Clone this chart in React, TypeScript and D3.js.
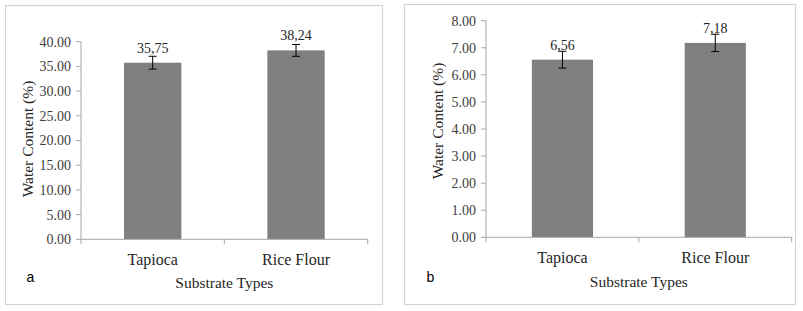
import React, { useEffect, useRef } from 'react';
import * as d3 from 'd3';

// data
const categories = ['Tapioca', 'Rice Flour'];
const waterA = [35.75, 38.24];
const errorA = [1.3, 1.2];
const waterB = [6.56, 7.18];
const errorB = [0.31, 0.32];
const ticksA = [0, 5, 10, 15, 20, 25, 30, 35, 40];
const ticksB = [0, 1, 2, 3, 4, 5, 6, 7, 8];

const serif = '"Liberation Serif", "Times New Roman", serif';
const sans = '"Liberation Sans", Arial, sans-serif';

const panels = [
  {
    tag: 'a', values: waterA, errors: errorA, ticks: ticksA, max: 40,
    frame: [5.5, 5.5, 382.5, 304.5],
    plot: { left: 81, right: 367.7, top: 41.7, bottom: 239.3 },
    title: { x: 33, y: 139 }, catY: 265, axisTitleY: 288, tagX: 26.5
  },
  {
    tag: 'b', values: waterB, errors: errorB, ticks: ticksB, max: 8,
    frame: [404.5, 4.5, 795.5, 304.5],
    plot: { left: 486, right: 791.7, top: 20.7, bottom: 237.3 },
    title: { x: 443, y: 121 }, catY: 263, axisTitleY: 287, tagX: 426.5
  }
];

function App() {
  const ref = useRef(null);

  useEffect(() => {
    const svg = d3.select(ref.current);
    svg.selectAll('*').remove();

    const tickFmt = d3.format('.2f');
    const valFmt = (v) => d3.format('.2f')(v).replace('.', ',');

    panels.forEach((p) => {
      const g = svg.append('g');
      const [fx0, fy0, fx1, fy1] = p.frame;

      // outer frame
      g.append('rect')
        .attr('x', fx0).attr('y', fy0)
        .attr('width', fx1 - fx0).attr('height', fy1 - fy0)
        .attr('fill', '#fff')
        .attr('stroke', '#d4d4d4')
        .attr('stroke-width', 1.2);

      const x = d3.scaleBand()
        .domain(categories)
        .range([p.plot.left, p.plot.right])
        .paddingInner(0.6)
        .paddingOuter(0.3);

      const y = d3.scaleLinear()
        .domain([0, p.max])
        .range([p.plot.bottom, p.plot.top]);

      // bars
      g.selectAll('.bar').data(categories).enter().append('rect')
        .attr('x', (d) => x(d))
        .attr('y', (d, i) => y(p.values[i]))
        .attr('width', x.bandwidth())
        .attr('height', (d, i) => y(0) - y(p.values[i]))
        .attr('fill', '#808080');

      // y axis
      const axisColor = '#a6a6a6';
      g.append('line')
        .attr('x1', p.plot.left).attr('x2', p.plot.left)
        .attr('y1', y(p.max)).attr('y2', y(0))
        .attr('stroke', axisColor);
      g.selectAll('.ytick').data(p.ticks).enter().append('line')
        .attr('x1', p.plot.left - 5).attr('x2', p.plot.left)
        .attr('y1', (d) => y(d)).attr('y2', (d) => y(d))
        .attr('stroke', axisColor);
      g.selectAll('.ylab').data(p.ticks).enter().append('text')
        .attr('x', p.plot.left - 10)
        .attr('y', (d) => y(d))
        .attr('dy', '0.35em')
        .attr('text-anchor', 'end')
        .attr('font-family', serif)
        .attr('font-size', 14)
        .attr('fill', '#404040')
        .text((d) => tickFmt(d));

      // x axis
      g.append('line')
        .attr('x1', p.plot.left).attr('x2', p.plot.right)
        .attr('y1', y(0)).attr('y2', y(0))
        .attr('stroke', axisColor);
      const edges = [p.plot.left, x(categories[1]) - x.step() * 0.3, p.plot.right];
      g.selectAll('.xtick').data(edges).enter().append('line')
        .attr('x1', (d) => d).attr('x2', (d) => d)
        .attr('y1', y(0)).attr('y2', y(0) + 5)
        .attr('stroke', axisColor);
      g.selectAll('.xlab').data(categories).enter().append('text')
        .attr('x', (d) => x(d) + x.bandwidth() / 2)
        .attr('y', p.catY)
        .attr('text-anchor', 'middle')
        .attr('font-family', serif)
        .attr('font-size', 16)
        .attr('fill', '#262626')
        .text((d) => d);

      // error bars
      const eb = g.selectAll('.err').data(categories).enter().append('g')
        .attr('stroke', '#000')
        .attr('stroke-width', 1);
      const cx = (d) => x(d) + x.bandwidth() / 2;
      eb.append('line')
        .attr('x1', cx).attr('x2', cx)
        .attr('y1', (d, i) => y(p.values[i] + p.errors[i]))
        .attr('y2', (d, i) => y(p.values[i] - p.errors[i]));
      eb.append('line')
        .attr('x1', (d) => cx(d) - 4).attr('x2', (d) => cx(d) + 4)
        .attr('y1', (d, i) => y(p.values[i] + p.errors[i]))
        .attr('y2', (d, i) => y(p.values[i] + p.errors[i]));
      eb.append('line')
        .attr('x1', (d) => cx(d) - 4).attr('x2', (d) => cx(d) + 4)
        .attr('y1', (d, i) => y(p.values[i] - p.errors[i]))
        .attr('y2', (d, i) => y(p.values[i] - p.errors[i]));

      // value labels
      g.selectAll('.val').data(categories).enter().append('text')
        .attr('x', cx)
        .attr('y', (d, i) => y(p.values[i]) - 10)
        .attr('text-anchor', 'middle')
        .attr('font-family', serif)
        .attr('font-size', 14)
        .attr('fill', '#262626')
        .text((d, i) => valFmt(p.values[i]));

      // axis titles
      g.append('text')
        .attr('transform', `translate(${p.title.x},${p.title.y}) rotate(-90)`)
        .attr('text-anchor', 'middle')
        .attr('font-family', serif)
        .attr('font-size', 15.5)
        .attr('fill', '#262626')
        .text('Water Content (%)');

      g.append('text')
        .attr('x', (p.plot.left + p.plot.right) / 2)
        .attr('y', p.axisTitleY)
        .attr('text-anchor', 'middle')
        .attr('font-family', serif)
        .attr('font-size', 15.5)
        .attr('fill', '#262626')
        .text('Substrate Types');

      // panel letter
      g.append('text')
        .attr('x', p.tagX)
        .attr('y', 281.5)
        .attr('font-family', sans)
        .attr('font-size', 14)
        .attr('fill', '#000')
        .text(p.tag);
    });
  }, []);

  return (
    <div style={{ position: 'absolute', left: 0, top: 0 }}>
      <svg ref={ref} width={803} height={311} style={{ display: 'block', background: '#fff' }} />
    </div>
  );
}

export default App;
